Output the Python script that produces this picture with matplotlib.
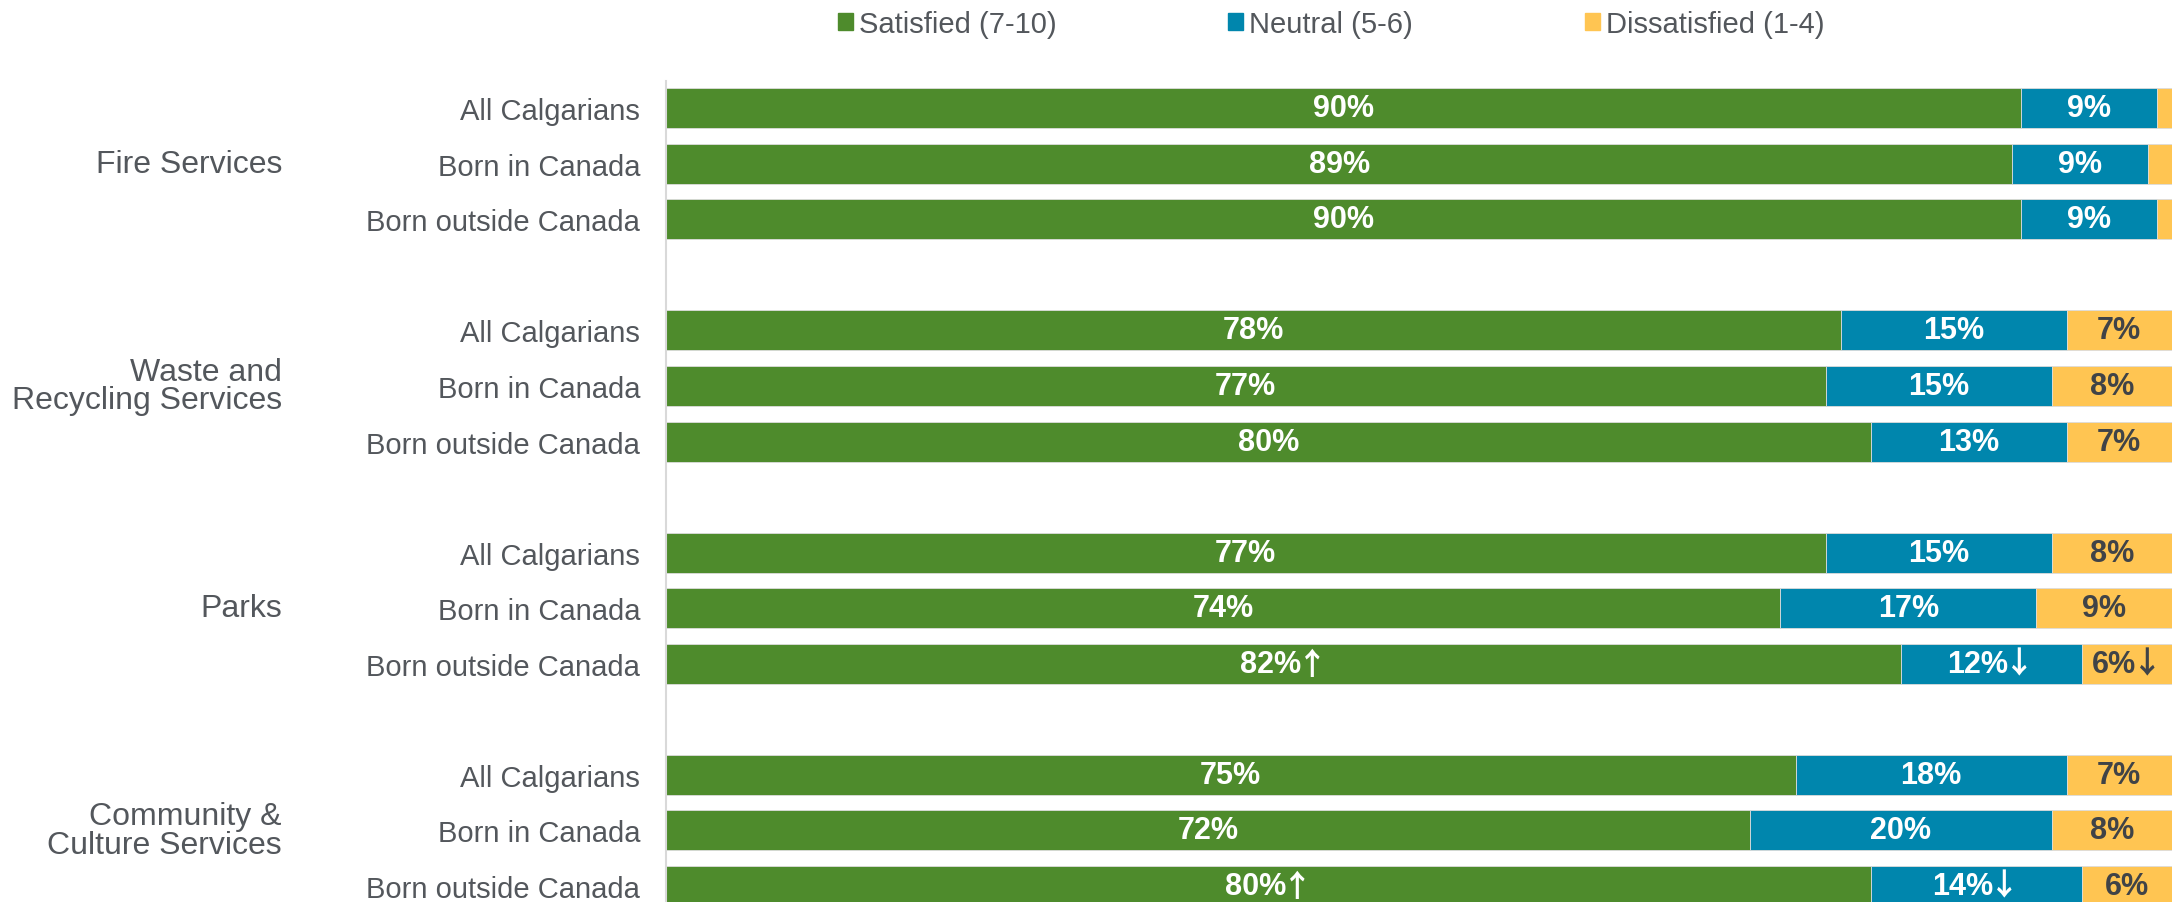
"""Satisfaction with City services by place of birth — stacked bar chart."""

import matplotlib
matplotlib.use("Agg")
import matplotlib.pyplot as plt
from matplotlib.patches import Patch
from matplotlib.offsetbox import TextArea, HPacker, AnnotationBbox

plt.rcParams["font.family"] = ["Liberation Sans", "DejaVu Sans"]

# ──────────────────────────────────────────────────────────────────
# Data
# ──────────────────────────────────────────────────────────────────

services = ["Fire Services", "Waste and\nRecycling Services", "Parks",
            "Community &\nCulture Services"]
segments = ["All Calgarians", "Born in Canada", "Born outside Canada"]

satisfied = [90, 89.4, 90,
             78, 77, 80,
             77, 74, 82,
             75, 72, 80]
neutral = [9, 9, 9,
           15, 15, 13,
           15, 17, 12,
           18, 20, 14]
dissatisfied = [1, 1.6, 1,
                7, 8, 7,
                8, 9, 6,
                7, 8, 6]

# significance flags (↑ higher / ↓ lower than Calgary overall)
sat_flag = ["", "", "", "", "", "", "", "", "↑", "", "", "↑"]
neu_flag = ["", "", "", "", "", "", "", "", "↓", "", "", "↓"]
dis_flag = ["", "", "", "", "", "", "", "", "↓", "", "", ""]

legend_labels = ["Satisfied (7-10)", "Neutral (5-6)", "Dissatisfied (1-4)"]

GREEN = "#4E8B2C"
BLUE = "#0086AD"
YELLOW = "#FFC552"
TEXT = "#53575C"
DARK = "#404347"


def bar_positions(n_groups, n_rows):
    """Row positions with one blank slot between groups."""
    pos = []
    for g in range(n_groups):
        pos += [g * (n_rows + 1) + r for r in range(n_rows)]
    return pos


def value_label(ax, x, y, value, flag, color):
    """Bold percentage centred in a segment, with optional arrow."""
    num = TextArea(f"{value:.0f}%", textprops=dict(
        color=color, fontsize=22, fontweight="bold",
        family="Liberation Sans"))
    parts = [num]
    if flag:
        parts.append(TextArea(flag, textprops=dict(
            color=color, fontsize=22, fontweight="bold",
            family=["Noto Sans CJK JP", "DejaVu Sans"])))
    box = HPacker(children=parts, align="center", pad=0, sep=-3)
    ab = AnnotationBbox(box, (x, y), frameon=False, pad=0,
                        box_alignment=(0.5, 0.5), zorder=5)
    ax.add_artist(ab)


def plot_satisfaction(save_path="out.png"):
    W, H = 2172, 903
    fig = plt.figure(figsize=(W / 100, H / 100), dpi=100)
    ax = fig.add_axes([666 / W, 0, 1506 / W, 821 / H])

    ys = bar_positions(len(services), len(segments))
    h = 0.72
    edge = dict(edgecolor="#dcdcdc", linewidth=0.6)

    lefts_neu = list(satisfied)
    lefts_dis = [s + n for s, n in zip(satisfied, neutral)]

    ax.barh(ys, satisfied, height=h, color=GREEN, **edge)
    ax.barh(ys, neutral, left=lefts_neu, height=h, color=BLUE, **edge)
    ax.barh(ys, dissatisfied, left=lefts_dis, height=h, color=YELLOW, **edge)

    # value labels
    for i, y in enumerate(ys):
        value_label(ax, satisfied[i] / 2, y, satisfied[i], sat_flag[i],
                    "white")
        value_label(ax, lefts_neu[i] + neutral[i] / 2, y, neutral[i],
                    neu_flag[i], "white")
        if dissatisfied[i] >= 3:
            value_label(ax, lefts_dis[i] + dissatisfied[i] / 2, y,
                        dissatisfied[i], dis_flag[i], DARK)

    ax.set_xlim(0, 100)
    ax.set_ylim(14.29, -0.49)
    ax.set_xticks([])
    ax.set_yticks(ys, segments * len(services), fontsize=21, color=TEXT)
    ax.tick_params(axis="y", length=0, pad=18.5)

    # group labels
    for g, name in enumerate(services):
        ax.text(-0.255, g * (len(segments) + 1) + 1, name,
                transform=ax.get_yaxis_transform(), ha="right", va="center",
                multialignment="right", fontsize=23, color=TEXT,
                linespacing=0.95)

    for side in ("top", "right", "bottom"):
        ax.spines[side].set_visible(False)
    ax.spines["left"].set_color("#d9d9d9")
    ax.spines["left"].set_linewidth(1.5)

    handles = [Patch(color=c) for c in (GREEN, BLUE, YELLOW)]
    fig.legend(handles, legend_labels, loc="center",
               bbox_to_anchor=(1331 / W, 1 - 25 / H), ncol=3, frameon=False,
               fontsize=21, handlelength=0.51, handleheight=0.51,
               handletextpad=0.2, columnspacing=5.9, borderpad=0,
               labelcolor=TEXT)

    fig.savefig(save_path, dpi=100)
    return fig, ax


if __name__ == "__main__":
    plot_satisfaction("out.png")
